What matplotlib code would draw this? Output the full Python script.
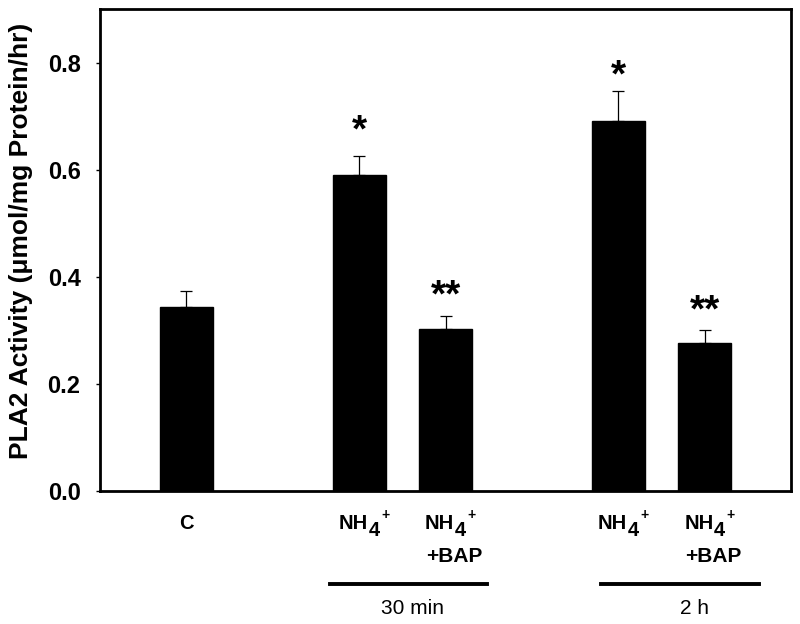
import matplotlib
matplotlib.use('Agg')
import matplotlib.pyplot as plt

# values
groups = ['C', 'NH4', 'NH4+BAP', 'NH4', 'NH4+BAP']
xpos = [0, 2, 3, 5, 6]
activity = [0.344, 0.591, 0.303, 0.690, 0.277]
sem = [0.030, 0.035, 0.024, 0.056, 0.024]
stars = ['', '*', '**', '*', '**']
star_y = [None, 0.684, 0.376, 0.787, 0.348]
time_labels = ['30 min', '2 h']
time_span = [(1.66, 3.48), (4.80, 6.63)]
time_text_x = [2.62, 5.88]

plt.rcParams['font.family'] = ['Liberation Sans', 'DejaVu Sans']

fig = plt.figure(figsize=(8, 6.24), dpi=100)
ax = fig.add_axes([0.125, 0.213, 0.864, 0.7726])

ax.bar(xpos, activity, width=0.61, color='black', edgecolor='black', zorder=2)
ax.errorbar(xpos, activity, yerr=[[0] * len(sem), sem], fmt='none',
            ecolor='black', elinewidth=0.9, capsize=4.5, capthick=0.9, zorder=1)

for x, s, y in zip(xpos, stars, star_y):
    if s:
        ax.annotate(s, (x, y), xytext=(0, -12.4), textcoords='offset points',
                    ha='center', va='baseline', fontsize=28, fontweight='bold')

ax.set_xlim(-1, 7)
ax.set_ylim(0, 0.9)
ax.set_yticks([0.0, 0.2, 0.4, 0.6, 0.8])
ax.set_yticklabels(['0.0', '0.2', '0.4', '0.6', '0.8'])
ax.set_xticks([])
for lbl in ax.get_yticklabels():
    lbl.set_fontweight('bold')
ax.tick_params(axis='y', direction='out', length=3, width=1, pad=11, labelsize=17)
for sp in ax.spines.values():
    sp.set_linewidth(2)

ax.set_ylabel('PLA2 Activity (μmol/mg Protein/hr)', fontsize=19, fontweight='bold')
ax.yaxis.set_label_coords(-0.097, 0.518)

# category labels below axis
tr = ax.get_xaxis_transform()


def nh4_label(x, y):
    ax.annotate('NH', (x, y), xycoords=tr, ha='right', va='baseline',
                fontsize=14.5, fontweight='bold', annotation_clip=False)
    ax.annotate('4', (x, y), xycoords=tr, xytext=(0.5, -5), textcoords='offset points',
                ha='left', va='baseline', fontsize=14.5, fontweight='bold',
                annotation_clip=False)
    ax.annotate('+', (x, y), xycoords=tr, xytext=(9.5, 7), textcoords='offset points',
                ha='left', va='baseline', fontsize=10, fontweight='bold',
                annotation_clip=False)


for x, g in zip(xpos, groups):
    if g == 'C':
        ax.text(x, -0.079, 'C', transform=tr, ha='center', va='baseline',
                fontsize=14.5, fontweight='bold')
    else:
        nh4_label(x + 0.1, -0.079)
        if g.endswith('BAP'):
            ax.text(x + 0.1, -0.147, '+BAP', transform=tr, ha='center', va='baseline',
                    fontsize=15, fontweight='bold')

for (x0, x1), lab, tx in zip(time_span, time_labels, time_text_x):
    ax.plot([x0, x1], [-0.193, -0.193], transform=tr, color='black', lw=2.8,
            clip_on=False)
    ax.text(tx, -0.255, lab, transform=tr, ha='center', va='baseline', fontsize=15)

fig.savefig('out.png', dpi=100)
